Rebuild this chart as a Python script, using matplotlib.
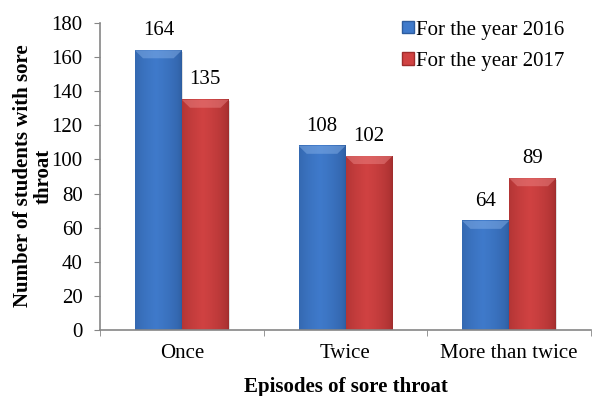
import numpy as np
import matplotlib
matplotlib.use("Agg")
import matplotlib.pyplot as plt
from matplotlib.patches import Patch, Polygon
from matplotlib.colors import to_rgb

categories = ["Once", "Twice", "More than twice"]
series_names = ["For the year 2016", "For the year 2017"]
values_2016 = [164, 108, 64]
values_2017 = [135, 102, 89]

plt.rcParams["font.family"] = ["Liberation Serif", "DejaVu Serif"]
plt.rcParams["font.size"] = 15

# colours: (edge, middle, bevel)
BLUE = ("#2d5c9e", "#3f7acb", "#8ab4ea")
RED = ("#9e2c2c", "#d04242", "#ee8a8a")
SPINE = "#868686"

fig = plt.figure(figsize=(5.92, 3.96), dpi=100)
ax = fig.add_axes([100 / 592, 66 / 396, 491 / 592, 307 / 396])
ax.set_xlim(-0.5, 2.5)
ax.set_ylim(0, 180)

W = 0.287


def grad_bar(x0, h, cols):
    edge, mid, bev = [np.array(to_rgb(c)) for c in cols]
    t = np.linspace(0, 1, 64)
    # darker on both sides, brightest a little left of centre
    w = np.clip(1 - np.abs(t - 0.45) / 0.55, 0, 1) ** 0.5
    img = edge[None, :] * (1 - w[:, None]) + mid[None, :] * w[:, None]
    ax.imshow(img[None, :, :], extent=[x0, x0 + W, 0, h], aspect="auto",
              interpolation="bilinear", zorder=2)
    # bevelled top
    bh = 8 / 1.706
    bw = 0.05
    top = Polygon([[x0, h], [x0 + W, h], [x0 + W - bw, h - bh], [x0 + bw, h - bh]],
                  closed=True, facecolor=bev, edgecolor="none", alpha=0.45, zorder=3)
    ax.add_patch(top)
    # soft shadow
    ax.add_patch(plt.Rectangle((x0 + 0.006, 0), W, h - 1, facecolor="#000000",
                               alpha=0.12, edgecolor="none", zorder=1.5))


x = np.arange(len(categories))
for i in x:
    grad_bar(i - W, values_2016[i], BLUE)
    grad_bar(i, values_2017[i], RED)
    for xc, v in ((i - W / 2, values_2016[i]), (i + W / 2, values_2017[i])):
        ax.annotate(str(v), (xc, v), xytext=(0, 11), textcoords="offset points",
                    ha="center", va="baseline", fontsize=15)

ax.set_yticks(range(0, 181, 20))
ax.set_xticks(x)
ax.set_xticklabels(categories)
ax.set_xticks([-0.5, 0.5, 1.5, 2.5], minor=True)
ax.tick_params(axis="x", which="major", length=0, pad=10)
ax.tick_params(axis="x", which="minor", length=4.5, direction="out", color=SPINE)
ax.tick_params(axis="y", length=4.5, direction="out", color=SPINE, pad=8)
for s in ("top", "right"):
    ax.spines[s].set_visible(False)
for s in ("left", "bottom"):
    ax.spines[s].set_color(SPINE)
    ax.spines[s].set_linewidth(1.2)

fig.text(33.5 / 592, 1 - 176 / 396, "Number of students with sore\nthroat",
         rotation=90, ha="center", va="center", multialignment="center",
         fontsize=15, fontweight="bold", linespacing=1.05)
fig.text(345.5 / 592, 1 - 387 / 396, "Episodes of sore throat",
         ha="center", va="center", fontsize=15, fontweight="bold")

handles = [Patch(facecolor=BLUE[1], edgecolor=BLUE[0]),
           Patch(facecolor=RED[1], edgecolor=RED[0])]
ax.legend(handles, series_names, loc="upper left", bbox_to_anchor=(294 / 491, 1.035),
          frameon=False, handlelength=0.55, handleheight=0.55, handletextpad=0.12,
          labelspacing=0.6, fontsize=15, borderaxespad=0)

fig.savefig("out.png", dpi=100)
